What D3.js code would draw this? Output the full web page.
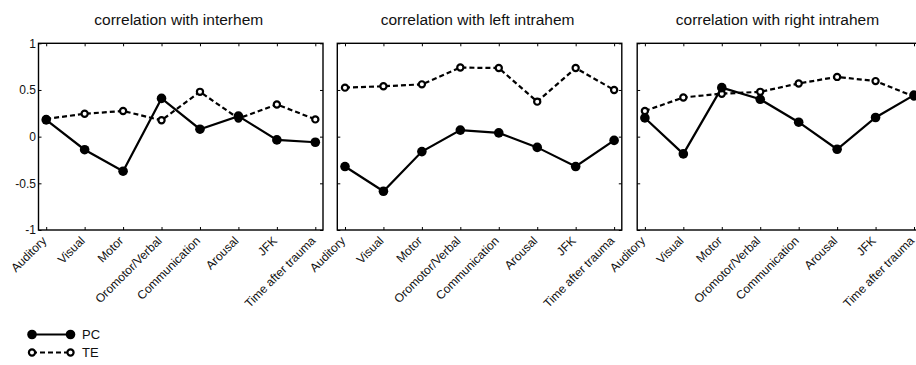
<!DOCTYPE html>
<html>
<head>
<meta charset="utf-8">
<script src="https://cdn.jsdelivr.net/npm/d3@7"></script>
<style>
  html, body { margin: 0; padding: 0; background: #fff; }
  svg { display: block; font-family: "Liberation Sans", Arial, Helvetica, sans-serif; }
</style>
</head>
<body>
<svg id="chart" width="916" height="365"></svg>
<script>
// Categories along the x axis (shared by all three panels)
const categories = ["Auditory", "Visual", "Motor", "Oromotor/Verbal",
                    "Communication", "Arousal", "JFK", "Time after trauma"];

const panelTitles = ["correlation with interhem",
                     "correlation with left intrahem",
                     "correlation with right intrahem"];

// PC and TE correlations per panel
const pcInterhem = [0.18, -0.14, -0.37, 0.41, 0.08, 0.22, -0.035, -0.06];
const teInterhem = [0.19, 0.245, 0.275, 0.175, 0.48, 0.195, 0.345, 0.185];

const pcLeftIntrahem = [-0.32, -0.585, -0.16, 0.07, 0.04, -0.115, -0.32, -0.04];
const teLeftIntrahem = [0.525, 0.54, 0.56, 0.74, 0.735, 0.375, 0.735, 0.50];

const pcRightIntrahem = [0.20, -0.185, 0.525, 0.40, 0.155, -0.135, 0.205, 0.445];
const teRightIntrahem = [0.275, 0.42, 0.46, 0.48, 0.57, 0.64, 0.595, 0.43];

const yTickValues = [-1, -0.5, 0, 0.5, 1];
const yTickLabels = ["-1", "-0.5", "0", "0.5", "1"];

const seriesNames = ["PC", "TE"];

const panels = [
  { title: panelTitles[0], pc: pcInterhem, te: teInterhem },
  { title: panelTitles[1], pc: pcLeftIntrahem, te: teLeftIntrahem },
  { title: panelTitles[2], pc: pcRightIntrahem, te: teRightIntrahem }
];

const svg = d3.select("#chart");

// layout
const panelLefts = [38.5, 337.3, 637.2];
const panelWidth = 284.5;
const plotTop = 43.3, plotBottom = 230;
const xIdx = categories.map((d, i) => i + 1);

const y = d3.scaleLinear().domain([-1, 1]).range([plotBottom, plotTop]);

const lineGen = (x) => d3.line().x((d, i) => x(i + 1)).y(d => y(d));

panels.forEach((p, pi) => {
  const left = panelLefts[pi];
  const x = d3.scaleLinear().domain([0.8, 8.2]).range([left, left + panelWidth]);
  const g = svg.append("g");

  // title
  g.append("text")
    .attr("x", left + panelWidth / 2 - 2)
    .attr("y", 24.5)
    .attr("text-anchor", "middle")
    .attr("font-size", 15.5)
    .attr("fill", "#111")
    .text(p.title);

  // bottom axis with category labels
  const bottom = g.append("g")
    .attr("transform", `translate(0,${plotBottom})`)
    .call(d3.axisBottom(x).tickValues(xIdx).tickSize(-3).tickPadding(0)
      .tickFormat(i => categories[i - 1]));
  bottom.select(".domain").remove();
  bottom.selectAll(".tick line").attr("stroke", "#000").attr("stroke-width", 1);
  bottom.selectAll(".tick text")
    .attr("font-size", 12)
    .attr("font-family", "Liberation Sans, Arial, sans-serif")
    .attr("fill", "#111")
    .attr("text-anchor", "end")
    .attr("dy", null)
    .attr("y", null)
    .attr("transform", "translate(0.5,11.5) rotate(-45)");

  // top mirrored ticks
  const top = g.append("g")
    .attr("transform", `translate(0,${plotTop})`)
    .call(d3.axisTop(x).tickValues(xIdx).tickSize(-3).tickFormat(""));
  top.select(".domain").remove();
  top.selectAll(".tick line").attr("stroke", "#000");

  // left axis (labels only on the first panel)
  const leftAx = g.append("g")
    .attr("transform", `translate(${left},0)`)
    .call(d3.axisLeft(y).tickValues(yTickValues).tickSize(-3).tickPadding(2.5)
      .tickFormat((d, i) => pi === 0 ? yTickLabels[i] : ""));
  leftAx.select(".domain").remove();
  leftAx.selectAll(".tick line").attr("stroke", "#000");
  leftAx.selectAll(".tick text")
    .attr("font-size", 12)
    .attr("font-family", "Liberation Sans, Arial, sans-serif")
    .attr("fill", "#111");

  // right mirrored ticks
  const rightAx = g.append("g")
    .attr("transform", `translate(${left + panelWidth},0)`)
    .call(d3.axisRight(y).tickValues(yTickValues).tickSize(-3).tickFormat(""));
  rightAx.select(".domain").remove();
  rightAx.selectAll(".tick line").attr("stroke", "#000");

  // box
  g.append("rect")
    .attr("x", left).attr("y", plotTop)
    .attr("width", panelWidth).attr("height", plotBottom - plotTop)
    .attr("fill", "none").attr("stroke", "#000").attr("stroke-width", 1.4);

  // TE: dashed line with open circles
  g.append("path")
    .datum(p.te)
    .attr("d", lineGen(x))
    .attr("fill", "none").attr("stroke", "#000")
    .attr("stroke-width", 2.2).attr("stroke-dasharray", "5,3");
  g.selectAll(".te").data(p.te).enter().append("circle")
    .attr("cx", (d, i) => x(i + 1)).attr("cy", d => y(d))
    .attr("r", 3.1).attr("fill", "#fff")
    .attr("stroke", "#000").attr("stroke-width", 2.2);

  // PC: solid line with filled circles
  g.append("path")
    .datum(p.pc)
    .attr("d", lineGen(x))
    .attr("fill", "none").attr("stroke", "#000").attr("stroke-width", 2.2);
  g.selectAll(".pc").data(p.pc).enter().append("circle")
    .attr("cx", (d, i) => x(i + 1)).attr("cy", d => y(d))
    .attr("r", 4.8).attr("fill", "#000");
});

// legend
const legend = svg.append("g");
const legendRows = [
  { name: seriesNames[0], y: 334.5, dashed: false },
  { name: seriesNames[1], y: 352.5, dashed: true }
];
legendRows.forEach(r => {
  legend.append("line")
    .attr("x1", 32).attr("x2", 70.5).attr("y1", r.y).attr("y2", r.y)
    .attr("stroke", "#000").attr("stroke-width", 2.2)
    .attr("stroke-dasharray", r.dashed ? "5,3" : null);
  [32, 70.5].forEach(cx => {
    legend.append("circle")
      .attr("cx", cx).attr("cy", r.y)
      .attr("r", r.dashed ? 3.1 : 4.8)
      .attr("fill", r.dashed ? "#fff" : "#000")
      .attr("stroke", r.dashed ? "#000" : "none")
      .attr("stroke-width", 2.2);
  });
  legend.append("text")
    .attr("x", 82).attr("y", r.y + 4.5)
    .attr("font-size", 13).attr("fill", "#111")
    .text(r.name);
});
</script>
</body>
</html>
